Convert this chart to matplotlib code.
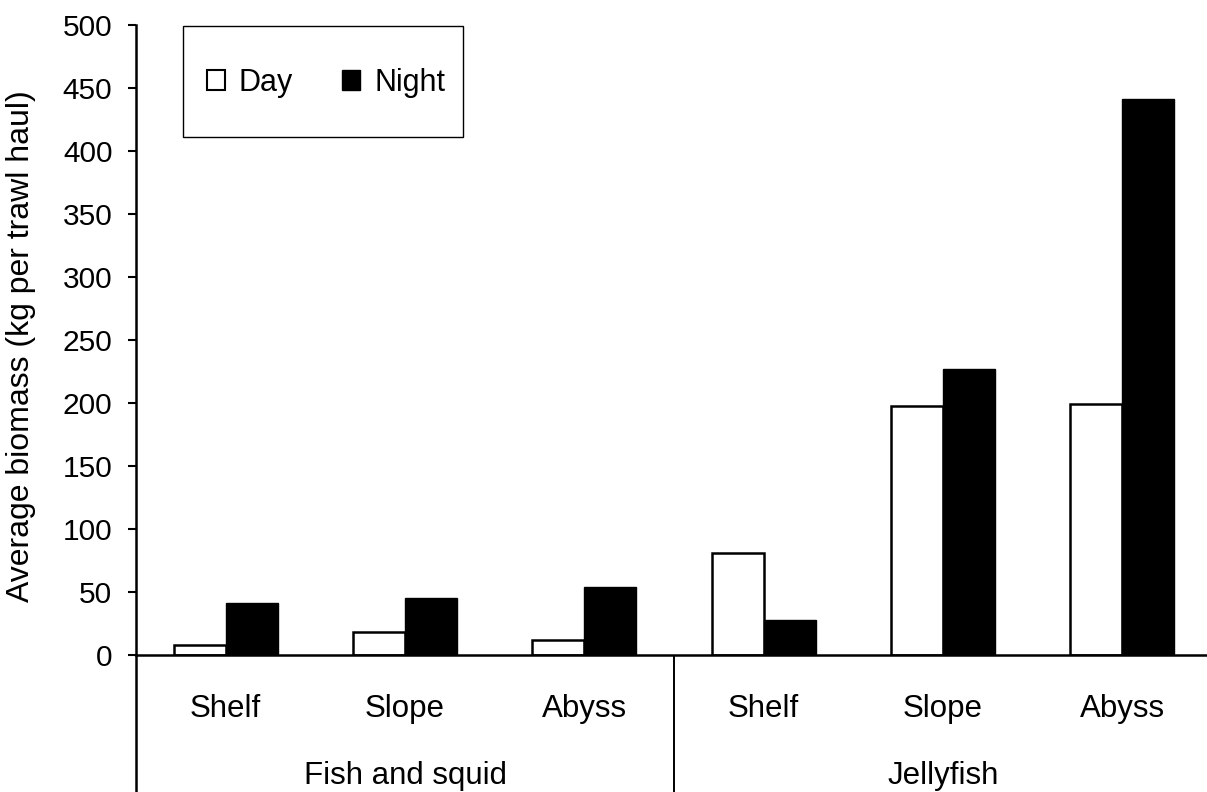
import numpy as np
import matplotlib.pyplot as plt
from matplotlib.patches import Patch, Rectangle

plt.rcParams['font.family'] = ['Liberation Sans', 'DejaVu Sans']

groups = ["Fish and squid", "Jellyfish"]
zones = ["Shelf", "Slope", "Abyss", "Shelf", "Slope", "Abyss"]
day = [8, 18, 12, 81, 198, 199]
night = [41, 45.5, 54, 27.5, 227, 441]

fs = 22.5
w = 0.29
x = np.arange(len(zones))

fig = plt.figure(figsize=(12.07, 7.92), dpi=100)
ax = fig.add_axes([136 / 1207, 1 - 655 / 792, 1076 / 1207, 630 / 792])

ax.bar(x - w / 2, day, width=w, color='white', edgecolor='black', linewidth=1.8)
ax.bar(x + w / 2, night, width=w, color='black', edgecolor='black', linewidth=1.0)

ax.set_xlim(-0.5, 5.5)
ax.set_ylim(0, 500)
ax.set_yticks(np.arange(0, 501, 50))
ax.tick_params(axis='y', labelsize=21.5, length=6, width=1.5, direction='out', pad=11)
ax.set_xticks(x)
ax.set_xticklabels(zones, fontsize=fs)
ax.tick_params(axis='x', length=0, pad=28)

fig.text(21.5 / 1207, 1 - 346 / 792, "Average biomass (kg per trawl haul)",
         rotation=90, ha='center', va='center', fontsize=23)

for s in ['top', 'right']:
    ax.spines[s].set_visible(False)
ax.spines['left'].set_linewidth(1.8)
ax.spines['bottom'].set_linewidth(1.8)

# group separators below the axis
tr = ax.get_xaxis_transform()
ax.plot([-0.5, -0.5], [0, -0.22], transform=tr, color='black', lw=1.8, clip_on=False,
        solid_capstyle='butt')
ax.plot([2.5, 2.5], [0, -0.22], transform=tr, color='black', lw=1.4, clip_on=False,
        solid_capstyle='butt')
for i, g in enumerate(groups):
    ax.text(1 + 3 * i, -0.192, g, transform=tr, ha='center', va='center', fontsize=fs)

# legend box
ax.add_patch(Rectangle((0.0437, 0.822), 0.2602, 0.177, transform=ax.transAxes,
                       facecolor='white', edgecolor='black', lw=1.0, clip_on=False, zorder=3))
handles = [Patch(facecolor='white', edgecolor='black', lw=1.5, label='Day'),
           Patch(facecolor='black', edgecolor='black', label='Night')]
leg = ax.legend(handles=handles, ncol=2, loc='center', bbox_to_anchor=(0.1765, 0.908),
                frameon=False, fontsize=22, handlelength=0.6, handleheight=0.6,
                handletextpad=0.45, columnspacing=1.6, borderpad=0, borderaxespad=0)
leg.set_zorder(4)

fig.savefig('out.png', dpi=100)
